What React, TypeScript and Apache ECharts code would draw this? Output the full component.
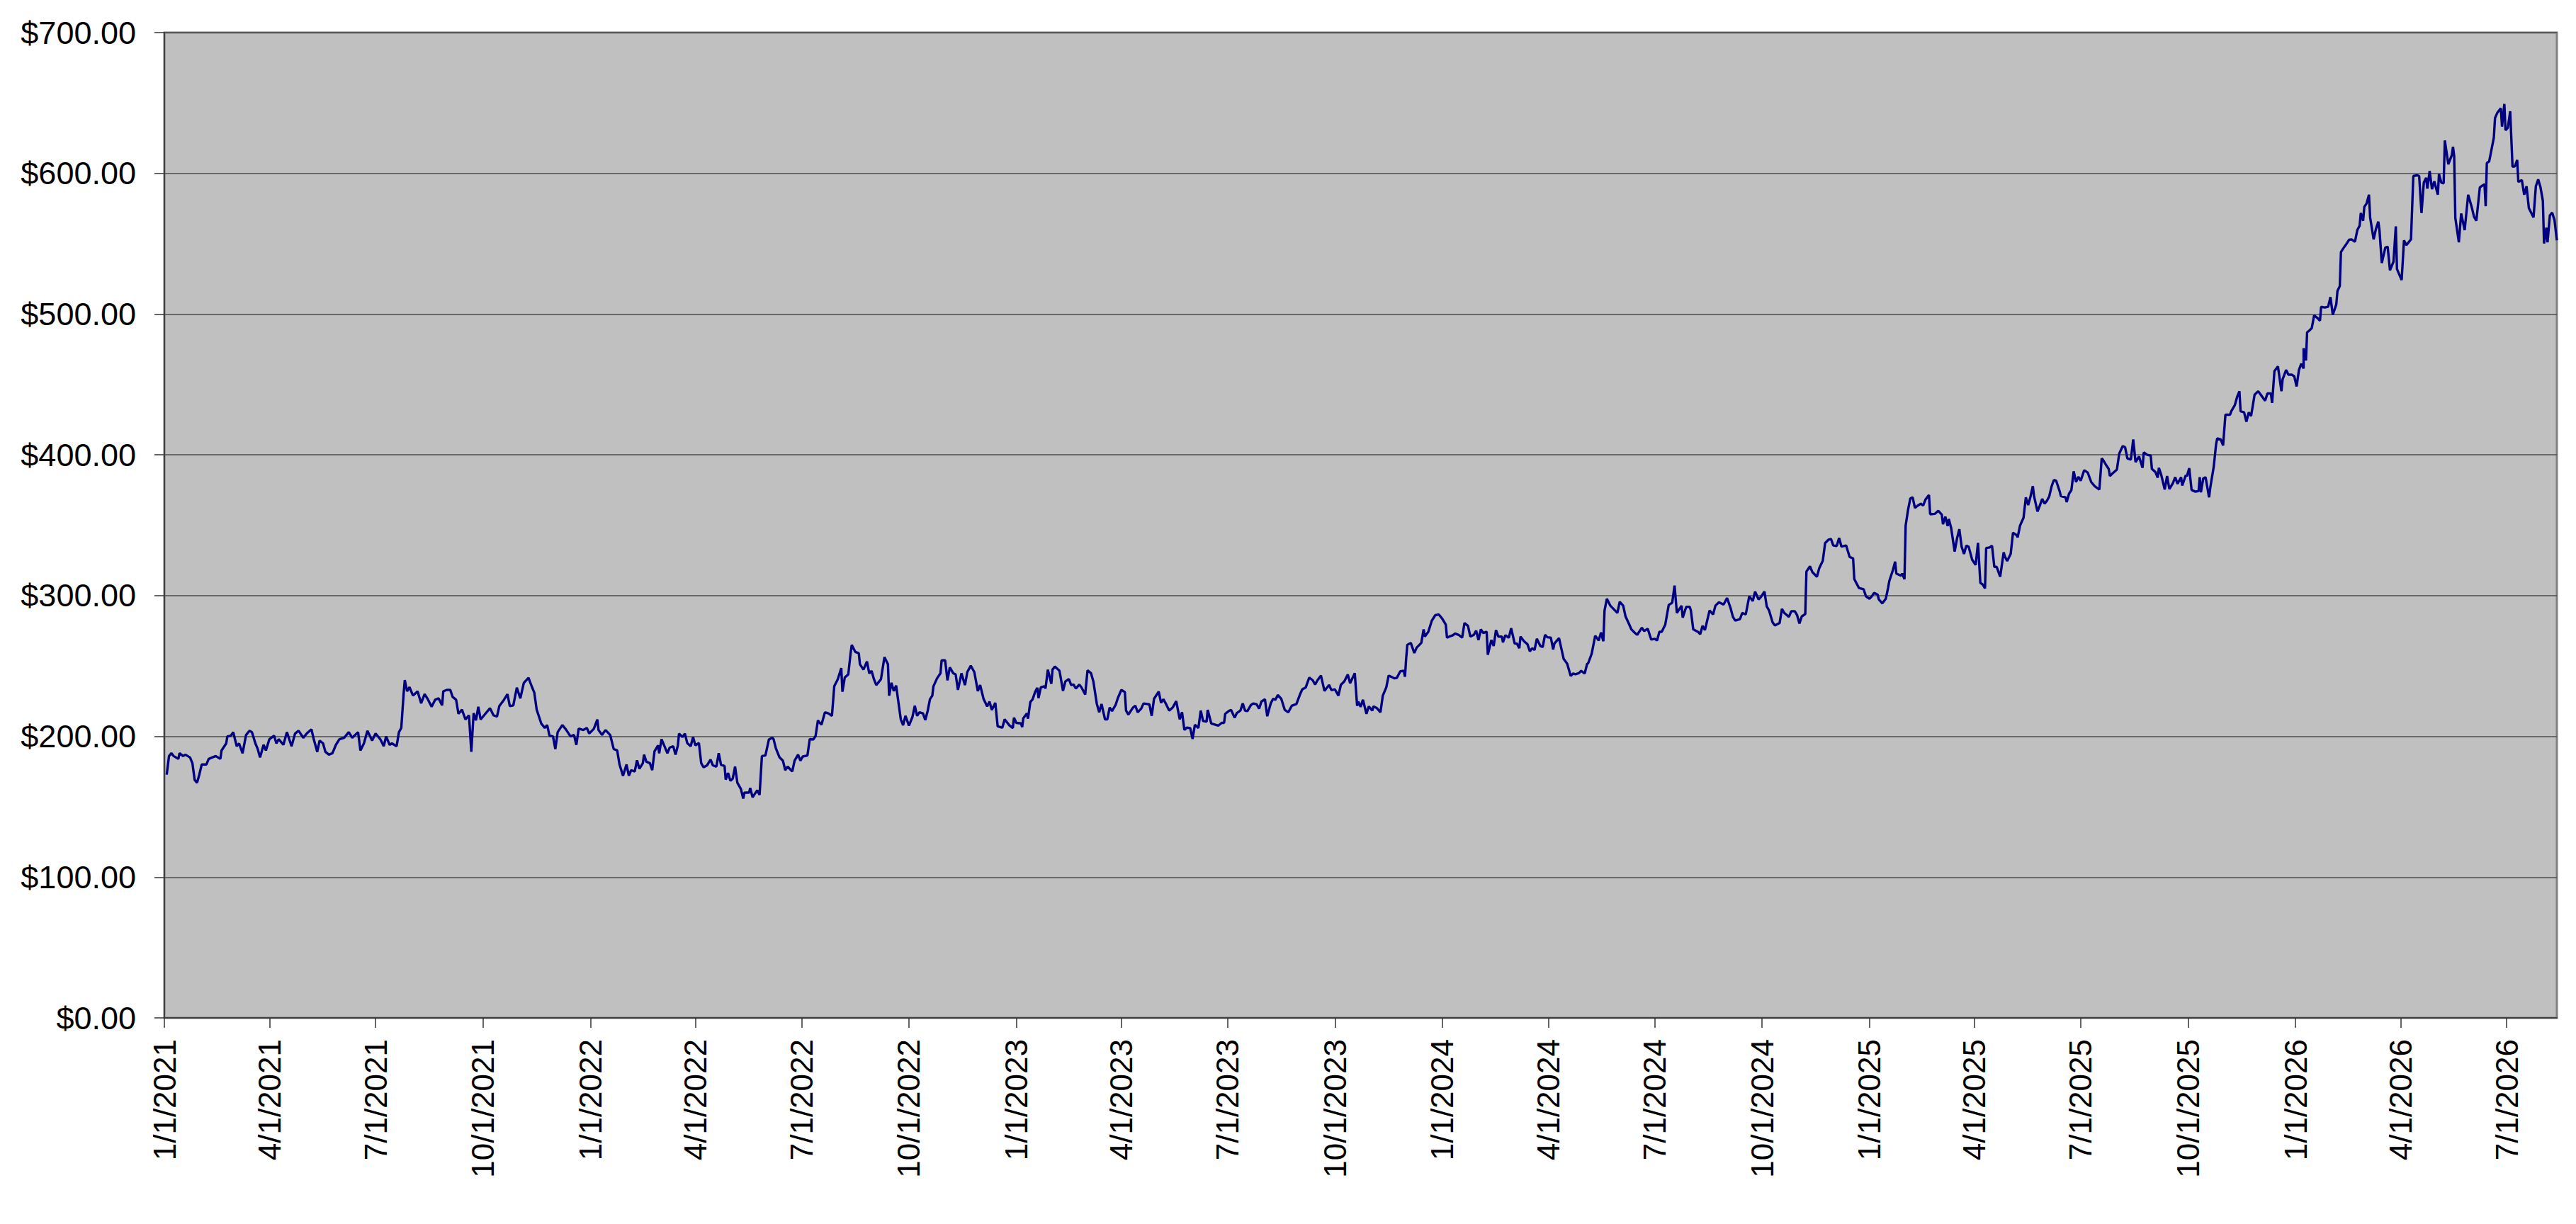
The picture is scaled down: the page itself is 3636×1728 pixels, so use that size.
import React, { useEffect, useRef } from "react";
import * as echarts from "echarts";

// [day offset from 1/1/2021, price]
const seg2021: [number, number][] = [
  [2,172.8],[4,186],[6,188],[8,186],[12,184],[13,188],[16,186],[18,187],[22,185],[24,181],[26,169],[28,167],[30,173],[32,180],[36,180],[38,184],[41,185],[44,186],[48,184],[49,190],[53,195],[54,200],[57,200.5],[59,203],[62,193],[64,195],[67,188],[70,201],[73,204],[75,203],[78,195],[80,191],[82,185],[85,194],[87,190],[90,198],[94,200.5],[96,195],[98,198],[102,194],[105,203],[109,193],[112,202],[115,204],[119,199],[122,202],[126,205],[128,198],[131,189],[133,197],[136,195],[138,189],[141,187],[144,188],[147,194],[150,198],[154,199],[158,203],[161,199],[166,203],[168,190],[171,195],[174,204],[178,197],[181,202],[185,198],[188,193],[190,200],[193,194],[195,195],[199,193],[201,203],[203,206],[205,230],[206,240],[208,232],[210,235],[213,229],[217,232],[220,223.5],[223,230],[226,226],[229,221],[232,226],[235,227],[238,222],[239,232],[242,233],[245,233],[247,228],[250,226],[252,216],[255,219],[258,212],[261,215],[263,189],[265,216.5],[267,211.4],[269,221],[271,212],[275,216],[279,220],[282,215],[285,214],[287,221.5],[291,226],[294,230],[296,221.5],[299,222],[302,234.6],[305,227],[308,238],[312,241.6],[315,235],[317,231],[319,219],[323,209],[326,206],[328,208],[330,200.5],[333,200],[335,191],[337,203],[341,208],[344,205],[348,200],[351,201],[353,194],[355,205.5]
];
const seg2022: [number, number][] = [
  [359,204.5],[362,206],[364,202],[368,205.4],[371,212],[372,204.5],[375,201],[378,204.5],[382,201],[385,191],[388,190],[390,180],[393,172],[396,180],[398,172],[400,176],[403,175],[405,183],[407,177],[410,181],[411,187],[413,182],[416,181],[418,176],[420,189.4],[423,193.6],[424,188],[426,198],[429,192],[431,188],[433,192],[436,193],[438,187],[440,193.6],[441,202],[444,199.5],[446,202],[448,195.3],[451,193],[453,199.5],[455,193.6],[458,195.3],[460,181],[462,178],[465,179.4],[468,183.5],[470,179.4],[473,178.5],[475,188],[477,179.7],[480,179],[481,169.3],[483,174],[485,168.4],[487,170],[489,178.5],[491,167],[494,162.6],[496,155.8],[497,160],[501,160],[502,163.4],[504,156.7],[506,159.2],[508,161.7],[510,158.4],[512,186],[515,186.4],[518,197.8],[521,199],[522,198],[524,191.4],[527,185.2],[530,182.7],[532,176],[534,178.5],[538,175.1],[540,182.7],[543,187],[545,182.7],[547,185.7],[551,186.4],[553,198],[556,197.8],[558,200.3],[560,211.3],[563,208.2],[566,217.1],[569,216.3],[572,214.6],[574,235.6],[577,240.6],[580,248.5],[581,231.7],[583,241.8],[586,244],[588,259.1],[589,265],[592,260],[595,259.1],[596,251.2],[599,247.4],[602,253.2],[604,244.8],[606,246.5],[608,240.6],[610,236.4],[614,240.6],[617,256.3],[620,251.2],[621,228.9],[623,238.1],[625,232.2],[627,236.1],[631,212.1],[633,207.9],[635,214.6],[638,207.6],[641,213.8],[643,221.7],[645,214.6],[647,217.1],[650,216.3],[652,211.6],[654,218],[656,226.4],[658,228.9],[659,235.6],[662,241.1],[665,244.8],[666,254],[669,254],[671,239.8],[673,249],[676,244.8],[678,244],[680,233],[683,244.8],[686,236.4],[688,245.7],[691,250.2],[694,245.7],[697,232.2],[699,236.4],[702,226.4],[705,221.3],[707,224.7],[709,218.8],[712,223.8],[714,207.1],[718,206.2],[720,212.1]
];
const seg2023: [number, number][] = [
  [724,207.9],[727,205.9],[728,213.3],[730,209.6],[734,209.2],[735,206.6],[736,212.9],[739,216.3],[740,212.6],[742,224.4],[744,226.4],[746,231.4],[748,234.5],[749,227.2],[751,234.8],[754,235.6],[755,234],[757,247.4],[760,237.3],[761,247.4],[763,249.6],[767,246.6],[770,232.3],[772,239],[775,240.7],[777,236.5],[779,236.8],[781,234],[784,236.8],[786,234.5],[789,229.7],[791,246.9],[794,244.9],[796,239],[799,223],[801,217.1],[803,223],[806,212.1],[808,212.1],[810,220.5],[812,218],[815,222.2],[817,227.2],[820,233.1],[823,231.4],[824,218.3],[826,215.5],[830,220.5],[832,221.7],[834,217.1],[837,219.7],[839,223.4],[842,223],[844,222.7],[846,214.6],[848,226.7],[852,231.8],[854,223.9],[856,226.4],[858,223.4],[861,218.3],[864,220.5],[867,225],[870,212.1],[872,217.1],[874,204.5],[876,206.2],[879,205.9],[881,198.2],[883,208.2],[886,205.9],[888,218.3],[890,210.9],[893,210.4],[894,218.8],[897,209.2],[901,208.2],[903,207.6],[906,209.6],[908,209.6],[909,216],[912,218],[914,218.8],[917,213.3],[919,216.6],[922,218.3],[924,223.4],[926,218.3],[928,218],[931,222.2],[933,223.4],[936,222.7],[938,219.7],[940,224.7],[943,226.4],[945,214.3],[948,223.4],[950,226.7],[952,226],[954,229.4],[957,226.7],[960,218.8],[963,217.1],[966,221.7],[970,223],[973,229.7],[975,233.4],[978,234.8],[981,241.8],[984,239.8],[986,236.8],[988,239.8],[991,243.2],[994,232.3],[998,236.5],[1000,232.8],[1003,233.4],[1006,228.9],[1008,236.5],[1011,239],[1014,244],[1016,237.8],[1020,244.9],[1022,221.7],[1023,224.7],[1025,221],[1027,226],[1030,216],[1032,221.3],[1035,218.3],[1036,221.3],[1039,220],[1042,217.1],[1044,228.9],[1047,234.8],[1049,243.2],[1051,242.4],[1054,241.2],[1056,241.5],[1059,246.2],[1062,246.6],[1063,242.4],[1064,255],[1065,265],[1068,266.4],[1071,259.2],[1073,263],[1077,266.4],[1079,276],[1080,270.9],[1083,274.3],[1086,282.2]
];
const seg2024: [number, number][] = [
  [1089,286.1],[1092,286.6],[1095,283.5],[1098,279.3],[1099,270.1],[1101,270.9],[1104,271.8],[1106,273.1],[1109,272.1],[1112,270.1],[1114,280.5],[1117,278.5],[1119,270.9],[1122,272.1],[1124,275.1],[1126,268.4],[1128,276],[1130,273.5],[1133,274.3],[1134,258],[1137,268.4],[1139,264.2],[1141,275.5],[1143,270.9],[1146,270.9],[1147,266.8],[1149,271.8],[1152,270.1],[1154,276.8],[1157,265.9],[1159,265.9],[1161,262.6],[1162,270.9],[1165,267.6],[1168,265.4],[1170,260.4],[1172,262.6],[1174,261.4],[1176,269.3],[1179,264.2],[1181,263.4],[1183,272.1],[1185,270.4],[1188,270.1],[1190,261.7],[1191,265.9],[1195,269.8],[1199,255],[1202,251.6],[1205,242.9],[1207,244.6],[1209,244.1],[1212,244.9],[1214,246.6],[1217,244.6],[1219,251.3],[1220,252],[1223,258.7],[1226,271.5],[1229,268.1],[1231,273.8],[1233,267.6],[1234,289.4],[1236,297.8],[1239,292.8],[1243,289.4],[1245,287.7],[1247,295.6],[1250,292.8],[1252,285.2],[1255,279.8],[1257,276],[1260,273.5],[1262,272.1],[1266,277.2],[1268,274.8],[1271,276.5],[1274,268.8],[1277,269.3],[1279,268.1],[1281,274.3],[1283,274.3],[1286,279.3],[1289,293.3],[1292,295],[1294,307.1],[1296,287.7],[1300,292.8],[1301,284.4],[1304,292],[1307,292],[1308,289.4],[1310,276],[1314,274.3],[1316,272.6],[1318,278.5],[1320,275.5],[1324,289.4],[1327,286.6],[1329,292.8],[1332,295.3],[1336,293.6],[1339,298.3],[1342,291.1],[1344,284.9],[1346,282.2],[1350,283.2],[1352,287.7],[1355,286.6],[1358,299.5],[1361,296.1],[1363,302.9],[1366,297.3],[1368,299],[1371,302.9],[1373,292.3],[1375,289.4],[1378,281],[1380,278.8],[1384,280.5],[1386,290.6],[1388,287.7],[1392,284.9],[1394,288.9],[1397,288.9],[1399,286.1],[1401,280.2],[1403,285.2],[1406,286.9],[1407,317.1],[1410,320.8],[1412,316.8],[1416,313.4],[1418,319.6],[1421,324.7],[1423,337.3],[1426,339.8],[1428,340.3],[1430,335.6],[1433,335.3],[1435,341],[1437,334.8],[1441,335.6],[1444,327.5],[1447,326.4],[1448,311.8],[1452,305.4],[1456,304.5],[1458,299.5],[1461,297.8],[1463,299.5],[1465,302]
];
const seg2025: [number, number][] = [
  [1468,300.7],[1469,297.3],[1472,294.5],[1475,297.8],[1477,305.7],[1478,310.4],[1481,317.9],[1483,324.1],[1484,315.7],[1488,314.1],[1489,315.7],[1491,311.7],[1492,349.7],[1494,360.6],[1496,369],[1498,369.8],[1500,362.3],[1502,363.7],[1505,365.3],[1507,364],[1509,368.2],[1512,371.5],[1513,357.8],[1517,358.1],[1520,360.3],[1523,357.5],[1524,350.7],[1526,356.1],[1528,349.4],[1529,354.4],[1531,348],[1534,331.3],[1536,340.5],[1538,347.2],[1540,334.7],[1542,329.6],[1544,335.5],[1546,334.7],[1549,325.5],[1552,321.8],[1554,337.5],[1556,309.1],[1558,307.9],[1560,305.1],[1561,333.8],[1564,334.2],[1566,335.5],[1568,320.4],[1570,320.4],[1573,313.4],[1576,330.8],[1577,327.9],[1579,324.6],[1582,329.6],[1584,344.7],[1587,343],[1588,341.4],[1590,349.7],[1593,355.3],[1595,369.8],[1597,364.3],[1599,370.4],[1601,377.7],[1602,370.7],[1605,359.8],[1607,364],[1609,368.7],[1611,365.3],[1613,367.3],[1615,370.4],[1617,377.4],[1619,382.1],[1621,381.6],[1624,374],[1625,370.7],[1629,369.8],[1630,366.5],[1632,372.4],[1634,374.9],[1636,388.3],[1638,380.7],[1640,384.4],[1642,381.6],[1645,389.1],[1648,387.4],[1651,380.7],[1654,377.7],[1656,376.5],[1658,375.4],[1660,397.5],[1661,396.6],[1664,392.5],[1666,390],[1667,385],[1669,386.6],[1673,389.5],[1675,400.8],[1678,406.2],[1680,405.5],[1682,397.5],[1685,396.6],[1687,410.9],[1689,394.9],[1692,398.8],[1695,390.8],[1696,401.7],[1699,400],[1702,399.5],[1703,390],[1706,387.8],[1708,383.8],[1709,390.8],[1711,385.8],[1714,375.4],[1716,384.9],[1718,375.7],[1721,379.9],[1723,384.1],[1725,379.4],[1728,384.1],[1729,378.2],[1732,385.4],[1733,384.9],[1735,390.5],[1737,375.1],[1740,373.9],[1743,374.2],[1744,384.1],[1745,373.4],[1747,383.2],[1749,384.1],[1752,369.8],[1753,376.5],[1756,391.6],[1758,407.5],[1759,411.7],[1762,410.9],[1764,406.7],[1766,428.5],[1770,428.5],[1771,431],[1774,435.2],[1776,441.1],[1778,445.2],[1779,431],[1782,430.2],[1784,423.5],[1786,430.2],[1788,427.6],[1791,442.7],[1794,445.2],[1797,441.9],[1800,438.5],[1802,443.6],[1805,443.6],[1806,436.9],[1808,459.5],[1811,462.8],[1814,445.2],[1815,453.6],[1818,460.3],[1820,456.9],[1823,456.9],[1825,455.8],[1827,448.6],[1829,460.3],[1831,464.8]
];
const seg2026: [number, number][] = [
  [1833,461.4],[1833,475.8],[1835,467.1],[1836,487],[1838,488.4],[1840,490.1],[1842,499.1],[1845,497.1],[1847,495.3],[1848,505.2],[1851,504.7],[1854,505.2],[1856,512.1],[1858,499.5],[1861,506.9],[1862,516.4],[1864,519.9],[1865,544.1],[1867,546.7],[1869,549],[1872,552.8],[1874,553.1],[1877,551.4],[1879,559.7],[1881,562.8],[1882,571.8],[1884,566.3],[1885,576.1],[1887,578.7],[1889,584.8],[1890,568.7],[1893,553.1],[1895,560.6],[1897,565.7],[1898,559.7],[1900,536.3],[1903,547.2],[1905,547.9],[1907,531.1],[1910,537.2],[1912,562.3],[1913,532],[1917,524.2],[1919,552.4],[1921,549],[1925,553.1],[1927,598.1],[1930,598.6],[1932,598.1],[1934,571.8],[1936,593.4],[1938,596.9],[1939,589.1],[1941,601.6],[1943,588.8],[1945,594.3],[1948,584.8],[1949,599.5],[1951,593.4],[1953,592.9],[1954,623.4],[1957,606.4],[1960,613],[1961,618.9],[1962,612.5],[1963,568.3],[1966,551],[1968,571.5],[1971,559.7],[1974,584.8],[1977,576.1],[1979,569.2],[1981,566.3],[1984,590],[1986,591.2],[1988,592.2],[1989,576.6],[1990,607.3],[1992,608.5],[1996,625.4],[1997,639.3],[1999,643.1],[2002,646.2],[2003,633.2],[2005,649.3],[2006,630.6],[2008,632.4],[2010,644.1],[2012,604.7],[2014,605],[2016,609.5],[2017,593.9],[2020,595.2],[2022,584.8],[2024,590.8],[2026,575.3],[2030,568.7],[2032,590.8],[2034,595.7],[2036,590],[2038,580.4],[2039,550.2],[2041,561.4],[2042,551],[2044,570.1],[2046,572.1],[2048,566.6],[2050,552.4]
];

const startYear = 2021;
const axisEndDay = 2050;
const tickMonths = [0, 3, 6, 9]; // Jan, Apr, Jul, Oct
const tickYears = [2021, 2022, 2023, 2024, 2025, 2026];
const yTicks = [0, 100, 200, 300, 400, 500, 600, 700];

const DAY = 86400000;
const base = Date.UTC(startYear, 0, 1);

const quarterDays: number[] = [];
tickYears.forEach((y) =>
  tickMonths.forEach((m) => {
    const d = Math.round((Date.UTC(y, m, 1) - base) / DAY);
    if (d <= axisEndDay) quarterDays.push(d);
  })
);

function dayLabel(v: number): string {
  const dt = new Date(base + Math.round(v) * DAY);
  return `${dt.getUTCMonth() + 1}/${dt.getUTCDate()}/${dt.getUTCFullYear()}`;
}

const seriesData = [...seg2021, ...seg2022, ...seg2023, ...seg2024, ...seg2025, ...seg2026];

export default function App() {
  const ref = useRef<HTMLDivElement>(null);
  useEffect(() => {
    document.body.style.margin = "0";
    const chart = echarts.init(ref.current!, null, { renderer: "svg" });
    const font = "'Liberation Sans', Arial, sans-serif";
    chart.setOption({
      animation: false,
      backgroundColor: "#ffffff",
      grid: {
        left: 232,
        right: 27,
        top: 46,
        bottom: 291,
        show: true,
        backgroundColor: "#c0c0c0",
        borderColor: "#808080",
        borderWidth: 3,
      },
      xAxis: {
        type: "value",
        min: 0,
        max: axisEndDay,
        axisLine: { show: true, onZero: false, lineStyle: { color: "#404040", width: 2 } },
        axisTick: {
          show: true,
          length: 14,
          customValues: quarterDays,
          lineStyle: { color: "#333333", width: 1.5 },
        },
        axisLabel: {
          customValues: quarterDays,
          rotate: 90,
          margin: 30,
          fontSize: 44,
          fontFamily: font,
          color: "#000000",
          formatter: (v: number) => dayLabel(v),
        },
        splitLine: { show: false },
      },
      yAxis: {
        type: "value",
        min: yTicks[0],
        max: yTicks[yTicks.length - 1],
        interval: 100,
        axisLine: { show: true, lineStyle: { color: "#404040", width: 2 } },
        axisTick: { show: true, length: 14, lineStyle: { color: "#333333", width: 1.5 } },
        axisLabel: {
          margin: 40,
          fontSize: 45,
          fontFamily: font,
          color: "#000000",
          formatter: (v: number) => "$" + v.toFixed(2),
        },
        splitLine: { show: true, lineStyle: { color: "#4d4d4d", width: 1.5 } },
      },
      series: [
        {
          type: "line",
          data: seriesData,
          showSymbol: false,
          symbol: "none",
          lineStyle: { color: "#000080", width: 3.4 },
          itemStyle: { color: "#000080" },
          emphasis: { disabled: true },
        },
      ],
    });
    return () => chart.dispose();
  }, []);
  return <div ref={ref} style={{ width: 3636, height: 1728 }} />;
}
